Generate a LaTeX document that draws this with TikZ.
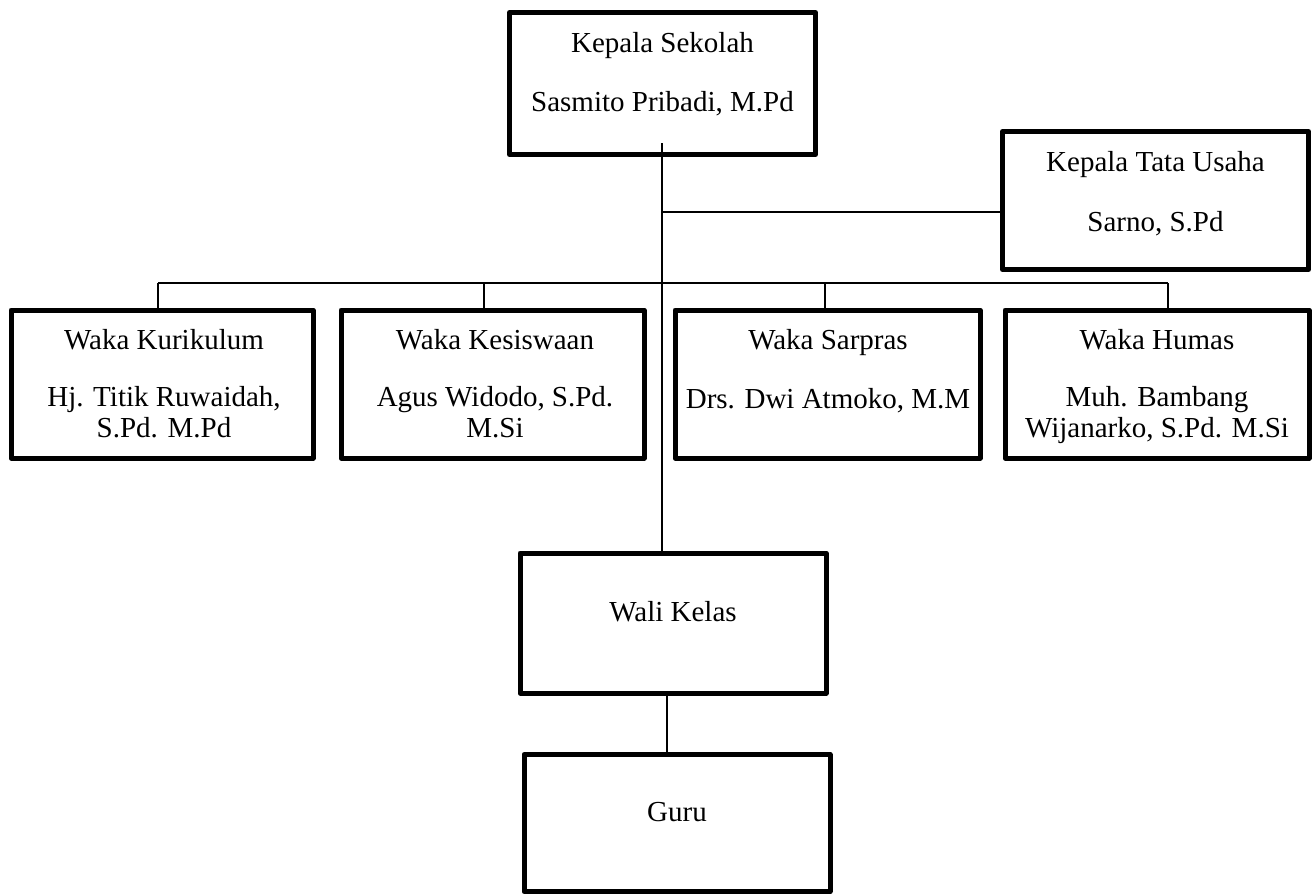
\documentclass[tikz,border=0pt]{standalone}
\usepackage{fontspec}
\setmainfont{Liberation Serif}
\begin{document}
\begin{tikzpicture}[x=1pt,y=-1pt,
  box/.style={draw, line width=5pt, line join=round, inner sep=0pt, rectangle, fill=white},
  lbl/.style={font=\fontsize{29}{31}\selectfont, anchor=base, inner sep=0pt},
  conn/.style={line width=1.6pt}]
\useasboundingbox (0,0) rectangle (1313,895);
\fill[white] (0,0) rectangle (1313,895);
% connectors first (behind boxes where needed)
\coordinate (vtop) at (662,143);
\coordinate (tj) at (662,212);
\coordinate (b1) at (158,283);
\coordinate (b2) at (484,283);
\coordinate (b3) at (825,283);
\coordinate (b4) at (1168,283);
\coordinate (wg) at (667,0);
% boxes
\node[box, minimum width=306pt, minimum height=142pt] (kep) at (662.5,83.5) {};
\node[box, minimum width=306pt, minimum height=138pt] (tata) at (1155.5,200.5) {};
\node[box, minimum width=302pt, minimum height=148pt] (kur) at (162,384) {};
\node[box, minimum width=303pt, minimum height=148pt] (kes) at (492.5,384) {};
\node[box, minimum width=305pt, minimum height=148pt] (sar) at (827.5,384) {};
\node[box, minimum width=304pt, minimum height=148pt] (hum) at (1157,384) {};
\node[box, minimum width=306pt, minimum height=140pt] (wali) at (673,623) {};
\node[box, minimum width=306pt, minimum height=137pt] (guru) at (677,823) {};
% connectors
\draw[conn] (vtop) -- (vtop |- wali.north);
\draw[conn] (tj) -- (tj -| tata.west);
\draw[conn] (b1) -- (b4);
\draw[conn] (b1) -- (b1 |- kur.north);
\draw[conn] (b2) -- (b2 |- kes.north);
\draw[conn] (b3) -- (b3 |- sar.north);
\draw[conn] (b4) -- (b4 |- hum.north);
\draw[conn] (wg |- wali.south) -- (wg |- guru.north);
% labels
\node[lbl] (kepT) at (662.5,52) {Kepala Sekolah};
\node[lbl] (kepN) at (662.5,111) {Sasmito Pribadi, M.Pd};
\node[lbl] (tataT) at (1155.5,171) {Kepala Tata Usaha};
\node[lbl] (tataN) at (1155.5,231) {Sarno, S.Pd};
\node[lbl] (kurT) at (164,349) {Waka Kurikulum};
\node[lbl] (kurN1) at (164,406) {Hj. Titik Ruwaidah,};
\node[lbl] (kurN2) at (164,437) {S.Pd. M.Pd};
\node[lbl] (kesT) at (495,349) {Waka Kesiswaan};
\node[lbl] (kesN1) at (495,406) {Agus Widodo, S.Pd.};
\node[lbl] (kesN2) at (495,437) {M.Si};
\node[lbl] (sarT) at (828,349) {Waka Sarpras};
\node[lbl] (sarN) at (828,408) {Drs. Dwi Atmoko, M.M};
\node[lbl] (humT) at (1157,349) {Waka Humas};
\node[lbl] (humN1) at (1157,406) {Muh. Bambang};
\node[lbl] (humN2) at (1157,437) {Wijanarko, S.Pd. M.Si};
\node[lbl] (waliT) at (673,621) {Wali Kelas};
\node[lbl] (guruT) at (677,821) {Guru};
\end{tikzpicture}
\end{document}
